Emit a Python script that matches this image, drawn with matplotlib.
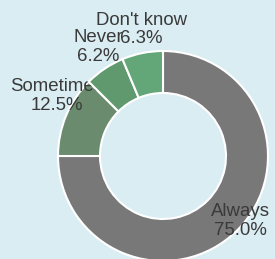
import matplotlib
matplotlib.use("Agg")
import matplotlib.pyplot as plt
import numpy as np

categories = ["Always", "Sometimes", "Never", "Don't know"]
values = [75.0, 12.5, 6.2, 6.3]

colors = ["#787878", "#6a8b6e", "#60996e", "#63a677"]
label_dist = [0.965, 1.16, 1.21, 1.22]
label_dang = [5.0, -7.0, -3.0, -1.5]
bg = "#daedf3"

W, H = 275, 259
fig = plt.figure(figsize=(W / 100, H / 100), dpi=100)
fig.patch.set_facecolor(bg)
cx, cy, R = 163, 156, 105
ax = fig.add_axes([(cx - R) / W, (H - cy - R) / H, 2 * R / W, 2 * R / H])
ax.set_facecolor(bg)
ax.axis("off")

wedges, _ = ax.pie(values, colors=colors, startangle=90, counterclock=False,
                   wedgeprops=dict(width=0.4, edgecolor="white", linewidth=1.5),
                   radius=1.0)
ax.set_xlim(-1, 1)
ax.set_ylim(-1, 1)
ax.set_aspect("equal")

total = sum(values)
for i, (w, lab, v) in enumerate(zip(wedges, categories, values)):
    w.set_zorder(2 * i + 1)
    w.set_clip_on(False)
    ang = np.deg2rad((w.theta1 + w.theta2) / 2 + label_dang[i])
    d = label_dist[i]
    t = ax.text(d * np.cos(ang), d * np.sin(ang), f"{lab}\n{v / total * 100:.1f}%",
                ha="center", va="center", multialignment="center",
                fontsize=13.4, family=["Liberation Sans", "DejaVu Sans"], color="#3a3a3a",
                linespacing=1.1, zorder=2 * i + 2)
    t.set_clip_on(False)

fig.savefig("out.png", dpi=100, facecolor=bg)
